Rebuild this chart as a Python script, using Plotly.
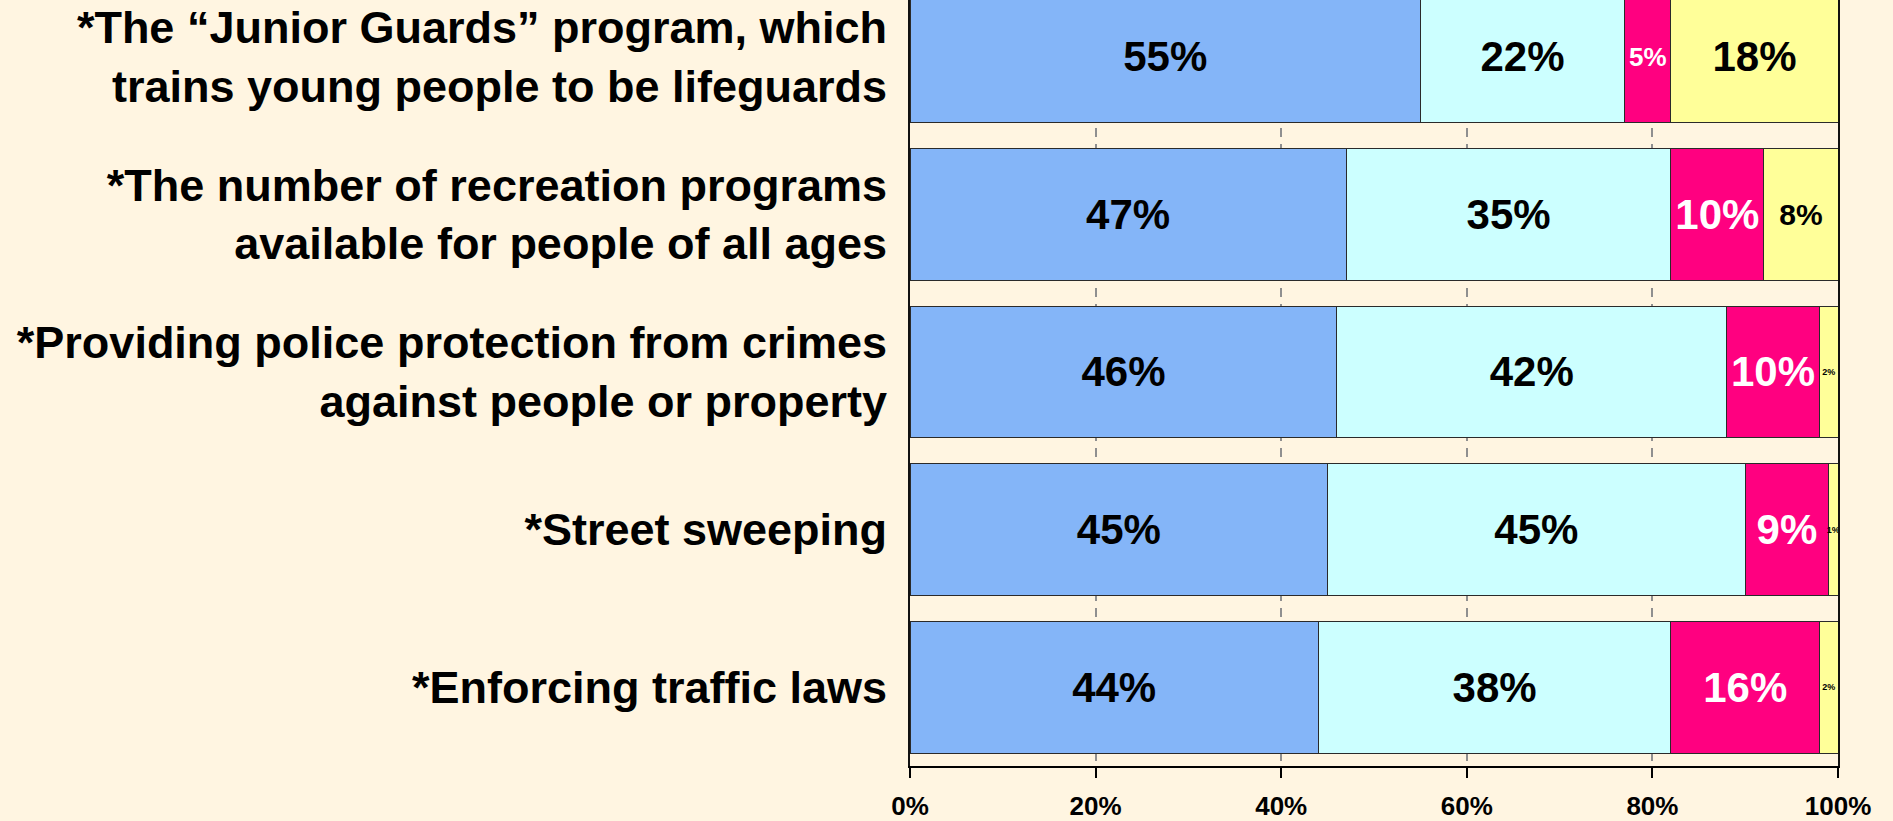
import plotly.graph_objects as go

categories = [
    "*The \u201cJunior Guards\u201d program, which<br>trains young people to be lifeguards",
    "*The number of recreation programs<br>available for people of all ages",
    "*Providing police protection from crimes<br>against people or property",
    "*Street sweeping",
    "*Enforcing traffic laws",
]
series_a = [55, 47, 46, 45, 44]   # blue
series_b = [22, 35, 42, 45, 38]   # light cyan
series_c = [5, 10, 10, 9, 16]     # pink
series_d = [18, 8, 2, 1, 2]       # yellow
x_ticks = [0, 20, 40, 60, 80, 100]
x_tick_labels = ["0%", "20%", "40%", "60%", "80%", "100%"]

FONT = "Liberation Sans, Arial, Helvetica, sans-serif"
BG = "#FFF5E1"

specs = [
    (series_a, "#84B5F8", ["black"] * 5, [42, 42, 42, 42, 42]),
    (series_b, "#CCFFFF", ["black"] * 5, [42, 42, 42, 42, 42]),
    (series_c, "#FF0080", ["white"] * 5, [26, 42, 42, 42, 42]),
    (series_d, "#FFFF99", ["black"] * 5, [42, 30, 9, 9, 9]),
]

fig = go.Figure()
for vals, color, tcolors, tsizes in specs:
    fig.add_trace(go.Bar(
        y=categories, x=vals, orientation="h",
        marker=dict(color=color, line=dict(color="#2a2a2a", width=1)),
        text=[f"{v}%" for v in vals],
        textposition="inside", insidetextanchor="middle",
        textangle=0, constraintext="none",
        textfont=dict(family=FONT, size=tsizes, color=tcolors, weight="bold"),
        hoverinfo="skip",
    ))

fig.update_layout(
    barmode="stack", bargap=0.165,
    width=1893, height=821,
    margin=dict(l=910, r=55, t=0, b=53),
    paper_bgcolor=BG, plot_bgcolor=BG,
    showlegend=False,
    xaxis=dict(
        range=[0, 100], tickvals=x_ticks, ticktext=x_tick_labels,
        showgrid=True, gridcolor="#8f8f8f", gridwidth=2, griddash="9px,7px",
        zeroline=False, showline=True, linecolor="black", linewidth=2,
        ticks="outside", ticklen=10, tickwidth=2, tickcolor="black",
        ticklabelstandoff=6,
        tickfont=dict(family=FONT, size=26, color="black", weight="bold"),
        fixedrange=True,
    ),
    yaxis=dict(
        type="category", categoryarray=categories,
        range=[4.5, -0.36],
        showline=True, mirror=True, linecolor="#111111", linewidth=2,
        showgrid=False, zeroline=False, ticks="", ticklabelstandoff=12,
        tickfont=dict(family=FONT, size=45, color="black", weight="bold"),
        fixedrange=True,
    ),
)

fig.write_html(
    "out.html",
    config={"displayModeBar": False},
    post_script="document.body.style.margin='0';document.body.style.background='%s';" % BG,
)
